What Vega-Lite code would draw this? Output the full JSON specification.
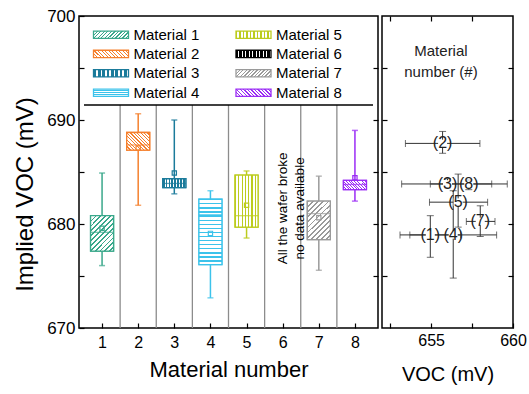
{
"$schema": "https://vega.github.io/schema/vega-lite/v6.json",
"padding": {"left": 12, "top": 6, "right": 2, "bottom": 5},
"spacing": 0,
"config": {
  "font": "Liberation Sans",
  "view": {"stroke": "black", "strokeWidth": 1.5},
  "axis": {"grid": false, "domain": false, "tickColor": "black", "tickSize": -5, "tickWidth": 1.2, "labelColor": "black", "titleColor": "black", "titleFontWeight": "normal", "labelFont": "Liberation Sans", "titleFont": "Liberation Sans", "labelFlush": false}
},
"hconcat": [
{
  "width": 299, "height": 312,
  "data": {"values": [
    {"m": 1, "lo": 676.0, "q1": 677.4, "med": 679.2, "q3": 680.8, "hi": 684.9, "mean": 679.6},
    {"m": 2, "lo": 681.8, "q1": 687.1, "med": 687.6, "q3": 688.8, "hi": 690.6, "mean": 687.3},
    {"m": 3, "lo": 682.9, "q1": 683.5, "med": 683.9, "q3": 684.35, "hi": 690.0, "mean": 684.9},
    {"m": 4, "lo": 672.9, "q1": 676.1, "med": 680.9, "q3": 682.4, "hi": 683.2, "mean": 679.1},
    {"m": 5, "lo": 678.65, "q1": 679.7, "med": 680.8, "q3": 684.7, "hi": 685.1, "mean": 681.8},
    {"m": 7, "lo": 675.55, "q1": 678.5, "med": 681.0, "q3": 682.2, "hi": 684.6, "mean": 680.6},
    {"m": 8, "lo": 682.2, "q1": 683.3, "med": 683.8, "q3": 684.2, "hi": 689.0, "mean": 684.45}
  ]},
  "resolve": {"axis": {"x": "independent", "y": "independent"}},
  "layer": [
    {
      "data": {"values": [{"s": 1.5}, {"s": 2.5}, {"s": 3.5}, {"s": 4.5}, {"s": 5.5}, {"s": 6.5}, {"s": 7.5}]},
      "mark": {"type": "rule", "color": "#8c8c8c", "strokeWidth": 1.3},
      "encoding": {
        "x": {"field": "s", "type": "quantitative", "scale": {"domain": [0.5, 8.5], "nice": false, "zero": false}, "axis": null},
        "y": {"datum": 670, "type": "quantitative", "scale": {"domain": [670, 700], "nice": false, "zero": false}, "axis": null},
        "y2": {"datum": 691.44}
      }
    },
    {
      "data": {"values": [{}]},
      "mark": {"type": "rule", "color": "black", "strokeWidth": 1.5},
      "encoding": {
        "x": {"datum": 0.5, "type": "quantitative", "scale": {"domain": [0.5, 8.5], "nice": false, "zero": false}, "axis": null},
        "x2": {"datum": 8.5},
        "y": {"datum": 691.44, "type": "quantitative", "scale": {"domain": [670, 700], "nice": false, "zero": false},
              "axis": {"orient": "right", "values": [675, 680, 685, 690, 695], "labels": false, "title": null}}
      }
    },
    {
      "mark": {"type": "rule", "strokeWidth": 1.5},
      "encoding": {
        "x": {"field": "m", "type": "quantitative", "scale": {"domain": [0.5, 8.5], "nice": false, "zero": false},
              "axis": {"orient": "bottom", "values": [1, 2, 3, 4, 5, 6, 7, 8], "title": "Material number", "titleFontSize": 22, "labelFontSize": 16, "labelPadding": 11, "titlePadding": 9}},
        "y": {"field": "lo", "type": "quantitative", "scale": {"domain": [670, 700], "nice": false, "zero": false},
              "axis": {"orient": "left", "values": [670, 675, 680, 685, 690, 695, 700], "labelExpr": "datum.value % 10 === 0 ? datum.label : ''", "title": "Implied VOC (mV)", "titleFontSize": 24, "labelFontSize": 17, "labelPadding": 9, "titlePadding": 9, "titleY": 178}},
        "y2": {"field": "hi"},
        "color": {"field": "m", "type": "nominal", "scale": {"domain": [8, 7, 6, 5, 4, 3, 2, 1], "range": ["#9b2cf5", "#9a9a9a", "#000000", "#bccc1e", "#3cc3eb", "#1b7b9b", "#f5802d", "#3aa88b"]}, "legend": null}
      }
    },
    {
      "mark": {"type": "tick", "orient": "horizontal", "size": 6, "thickness": 1.5},
      "encoding": {
        "x": {"field": "m", "type": "quantitative", "scale": {"domain": [0.5, 8.5], "nice": false, "zero": false}, "axis": null},
        "y": {"field": "lo", "type": "quantitative", "scale": {"domain": [670, 700], "nice": false, "zero": false}, "axis": null},
        "color": {"field": "m", "type": "nominal", "scale": {"domain": [8, 7, 6, 5, 4, 3, 2, 1], "range": ["#9b2cf5", "#9a9a9a", "#000000", "#bccc1e", "#3cc3eb", "#1b7b9b", "#f5802d", "#3aa88b"]}, "legend": null}
      }
    },
    {
      "mark": {"type": "tick", "orient": "horizontal", "size": 6, "thickness": 1.5},
      "encoding": {
        "x": {"field": "m", "type": "quantitative", "scale": {"domain": [0.5, 8.5], "nice": false, "zero": false}, "axis": null},
        "y": {"field": "hi", "type": "quantitative", "scale": {"domain": [670, 700], "nice": false, "zero": false}, "axis": null},
        "color": {"field": "m", "type": "nominal", "scale": {"domain": [8, 7, 6, 5, 4, 3, 2, 1], "range": ["#9b2cf5", "#9a9a9a", "#000000", "#bccc1e", "#3cc3eb", "#1b7b9b", "#f5802d", "#3aa88b"]}, "legend": null}
      }
    },
    {
      "mark": {"type": "bar", "size": 23, "strokeWidth": 1.3},
      "encoding": {
        "x": {"field": "m", "type": "quantitative", "scale": {"domain": [0.5, 8.5], "nice": false, "zero": false}, "axis": null},
        "y": {"field": "q1", "type": "quantitative", "scale": {"domain": [670, 700], "nice": false, "zero": false}, "axis": null},
        "y2": {"field": "q3"},
        "fill": {"field": "m", "type": "nominal",
          "scale": {"domain": [1, 2, 3, 4, 5, 6, 7, 8], "range": [
            {"expr": "{gradient:'linear',x1:0,y1:0,x2:1.158,y2:0.242,stops:[{offset:0,color:'#3aa88b'},{offset:0.03,color:'#3aa88b'},{offset:0.03,color:'#fff'},{offset:0.0833,color:'#fff'},{offset:0.0833,color:'#3aa88b'},{offset:0.1133,color:'#3aa88b'},{offset:0.1133,color:'#fff'},{offset:0.1667,color:'#fff'},{offset:0.1667,color:'#3aa88b'},{offset:0.1967,color:'#3aa88b'},{offset:0.1967,color:'#fff'},{offset:0.25,color:'#fff'},{offset:0.25,color:'#3aa88b'},{offset:0.28,color:'#3aa88b'},{offset:0.28,color:'#fff'},{offset:0.3333,color:'#fff'},{offset:0.3333,color:'#3aa88b'},{offset:0.3633,color:'#3aa88b'},{offset:0.3633,color:'#fff'},{offset:0.4167,color:'#fff'},{offset:0.4167,color:'#3aa88b'},{offset:0.4467,color:'#3aa88b'},{offset:0.4467,color:'#fff'},{offset:0.5,color:'#fff'},{offset:0.5,color:'#3aa88b'},{offset:0.53,color:'#3aa88b'},{offset:0.53,color:'#fff'},{offset:0.5833,color:'#fff'},{offset:0.5833,color:'#3aa88b'},{offset:0.6133,color:'#3aa88b'},{offset:0.6133,color:'#fff'},{offset:0.6667,color:'#fff'},{offset:0.6667,color:'#3aa88b'},{offset:0.6967,color:'#3aa88b'},{offset:0.6967,color:'#fff'},{offset:0.75,color:'#fff'},{offset:0.75,color:'#3aa88b'},{offset:0.78,color:'#3aa88b'},{offset:0.78,color:'#fff'},{offset:0.8333,color:'#fff'},{offset:0.8333,color:'#3aa88b'},{offset:0.8633,color:'#3aa88b'},{offset:0.8633,color:'#fff'},{offset:0.9167,color:'#fff'},{offset:0.9167,color:'#3aa88b'},{offset:0.9467,color:'#3aa88b'},{offset:0.9467,color:'#fff'},{offset:1,color:'#fff'}]}"},
            {"expr": "{gradient:'linear',x1:0,y1:1,x2:1.158,y2:0.758,stops:[{offset:0,color:'#f5802d'},{offset:0.03,color:'#f5802d'},{offset:0.03,color:'#fff'},{offset:0.0833,color:'#fff'},{offset:0.0833,color:'#f5802d'},{offset:0.1133,color:'#f5802d'},{offset:0.1133,color:'#fff'},{offset:0.1667,color:'#fff'},{offset:0.1667,color:'#f5802d'},{offset:0.1967,color:'#f5802d'},{offset:0.1967,color:'#fff'},{offset:0.25,color:'#fff'},{offset:0.25,color:'#f5802d'},{offset:0.28,color:'#f5802d'},{offset:0.28,color:'#fff'},{offset:0.3333,color:'#fff'},{offset:0.3333,color:'#f5802d'},{offset:0.3633,color:'#f5802d'},{offset:0.3633,color:'#fff'},{offset:0.4167,color:'#fff'},{offset:0.4167,color:'#f5802d'},{offset:0.4467,color:'#f5802d'},{offset:0.4467,color:'#fff'},{offset:0.5,color:'#fff'},{offset:0.5,color:'#f5802d'},{offset:0.53,color:'#f5802d'},{offset:0.53,color:'#fff'},{offset:0.5833,color:'#fff'},{offset:0.5833,color:'#f5802d'},{offset:0.6133,color:'#f5802d'},{offset:0.6133,color:'#fff'},{offset:0.6667,color:'#fff'},{offset:0.6667,color:'#f5802d'},{offset:0.6967,color:'#f5802d'},{offset:0.6967,color:'#fff'},{offset:0.75,color:'#fff'},{offset:0.75,color:'#f5802d'},{offset:0.78,color:'#f5802d'},{offset:0.78,color:'#fff'},{offset:0.8333,color:'#fff'},{offset:0.8333,color:'#f5802d'},{offset:0.8633,color:'#f5802d'},{offset:0.8633,color:'#fff'},{offset:0.9167,color:'#fff'},{offset:0.9167,color:'#f5802d'},{offset:0.9467,color:'#f5802d'},{offset:0.9467,color:'#fff'},{offset:1,color:'#fff'}]}"},
            {"expr": "{gradient:'linear',x1:0,y1:0,x2:1,y2:0,stops:[{offset:0,color:'#1b7b9b'},{offset:0.075,color:'#1b7b9b'},{offset:0.075,color:'#fff'},{offset:0.125,color:'#fff'},{offset:0.125,color:'#1b7b9b'},{offset:0.2,color:'#1b7b9b'},{offset:0.2,color:'#fff'},{offset:0.25,color:'#fff'},{offset:0.25,color:'#1b7b9b'},{offset:0.325,color:'#1b7b9b'},{offset:0.325,color:'#fff'},{offset:0.375,color:'#fff'},{offset:0.375,color:'#1b7b9b'},{offset:0.45,color:'#1b7b9b'},{offset:0.45,color:'#fff'},{offset:0.5,color:'#fff'},{offset:0.5,color:'#1b7b9b'},{offset:0.575,color:'#1b7b9b'},{offset:0.575,color:'#fff'},{offset:0.625,color:'#fff'},{offset:0.625,color:'#1b7b9b'},{offset:0.7,color:'#1b7b9b'},{offset:0.7,color:'#fff'},{offset:0.75,color:'#fff'},{offset:0.75,color:'#1b7b9b'},{offset:0.825,color:'#1b7b9b'},{offset:0.825,color:'#fff'},{offset:0.875,color:'#fff'},{offset:0.875,color:'#1b7b9b'},{offset:0.95,color:'#1b7b9b'},{offset:0.95,color:'#fff'},{offset:1,color:'#fff'}]}"},
            {"expr": "{gradient:'linear',x1:0,y1:0,x2:0,y2:1,stops:[{offset:0,color:'#fff'},{offset:0.19,color:'#fff'},{offset:0.19,color:'#3cc3eb'},{offset:0.31,color:'#3cc3eb'},{offset:0.31,color:'#fff'},{offset:0.44,color:'#fff'},{offset:0.44,color:'#3cc3eb'},{offset:0.56,color:'#3cc3eb'},{offset:0.56,color:'#fff'},{offset:0.69,color:'#fff'},{offset:0.69,color:'#3cc3eb'},{offset:0.81,color:'#3cc3eb'},{offset:0.81,color:'#fff'},{offset:1,color:'#fff'}]}"},
            {"expr": "{gradient:'linear',x1:0,y1:0,x2:1,y2:0,stops:[{offset:0,color:'#bccc1e'},{offset:0.03,color:'#bccc1e'},{offset:0.03,color:'#fff'},{offset:0.1,color:'#fff'},{offset:0.1,color:'#bccc1e'},{offset:0.13,color:'#bccc1e'},{offset:0.13,color:'#fff'},{offset:0.2,color:'#fff'},{offset:0.2,color:'#bccc1e'},{offset:0.23,color:'#bccc1e'},{offset:0.23,color:'#fff'},{offset:0.3,color:'#fff'},{offset:0.3,color:'#bccc1e'},{offset:0.33,color:'#bccc1e'},{offset:0.33,color:'#fff'},{offset:0.4,color:'#fff'},{offset:0.4,color:'#bccc1e'},{offset:0.43,color:'#bccc1e'},{offset:0.43,color:'#fff'},{offset:0.5,color:'#fff'},{offset:0.5,color:'#bccc1e'},{offset:0.53,color:'#bccc1e'},{offset:0.53,color:'#fff'},{offset:0.6,color:'#fff'},{offset:0.6,color:'#bccc1e'},{offset:0.63,color:'#bccc1e'},{offset:0.63,color:'#fff'},{offset:0.7,color:'#fff'},{offset:0.7,color:'#bccc1e'},{offset:0.73,color:'#bccc1e'},{offset:0.73,color:'#fff'},{offset:0.8,color:'#fff'},{offset:0.8,color:'#bccc1e'},{offset:0.83,color:'#bccc1e'},{offset:0.83,color:'#fff'},{offset:0.9,color:'#fff'},{offset:0.9,color:'#bccc1e'},{offset:0.93,color:'#bccc1e'},{offset:0.93,color:'#fff'},{offset:1,color:'#fff'}]}"},
            {"expr": "{gradient:'linear',x1:0,y1:0,x2:1,y2:0,stops:[{offset:0,color:'#000'},{offset:0.065,color:'#000'},{offset:0.065,color:'#fff'},{offset:0.1,color:'#fff'},{offset:0.1,color:'#000'},{offset:0.165,color:'#000'},{offset:0.165,color:'#fff'},{offset:0.2,color:'#fff'},{offset:0.2,color:'#000'},{offset:0.265,color:'#000'},{offset:0.265,color:'#fff'},{offset:0.3,color:'#fff'},{offset:0.3,color:'#000'},{offset:0.365,color:'#000'},{offset:0.365,color:'#fff'},{offset:0.4,color:'#fff'},{offset:0.4,color:'#000'},{offset:0.465,color:'#000'},{offset:0.465,color:'#fff'},{offset:0.5,color:'#fff'},{offset:0.5,color:'#000'},{offset:0.565,color:'#000'},{offset:0.565,color:'#fff'},{offset:0.6,color:'#fff'},{offset:0.6,color:'#000'},{offset:0.665,color:'#000'},{offset:0.665,color:'#fff'},{offset:0.7,color:'#fff'},{offset:0.7,color:'#000'},{offset:0.765,color:'#000'},{offset:0.765,color:'#fff'},{offset:0.8,color:'#fff'},{offset:0.8,color:'#000'},{offset:0.865,color:'#000'},{offset:0.865,color:'#fff'},{offset:0.9,color:'#fff'},{offset:0.9,color:'#000'},{offset:0.965,color:'#000'},{offset:0.965,color:'#fff'},{offset:1,color:'#fff'}]}"},
            {"expr": "{gradient:'linear',x1:0,y1:0,x2:1.158,y2:0.242,stops:[{offset:0,color:'#9a9a9a'},{offset:0.03,color:'#9a9a9a'},{offset:0.03,color:'#fff'},{offset:0.0833,color:'#fff'},{offset:0.0833,color:'#9a9a9a'},{offset:0.1133,color:'#9a9a9a'},{offset:0.1133,color:'#fff'},{offset:0.1667,color:'#fff'},{offset:0.1667,color:'#9a9a9a'},{offset:0.1967,color:'#9a9a9a'},{offset:0.1967,color:'#fff'},{offset:0.25,color:'#fff'},{offset:0.25,color:'#9a9a9a'},{offset:0.28,color:'#9a9a9a'},{offset:0.28,color:'#fff'},{offset:0.3333,color:'#fff'},{offset:0.3333,color:'#9a9a9a'},{offset:0.3633,color:'#9a9a9a'},{offset:0.3633,color:'#fff'},{offset:0.4167,color:'#fff'},{offset:0.4167,color:'#9a9a9a'},{offset:0.4467,color:'#9a9a9a'},{offset:0.4467,color:'#fff'},{offset:0.5,color:'#fff'},{offset:0.5,color:'#9a9a9a'},{offset:0.53,color:'#9a9a9a'},{offset:0.53,color:'#fff'},{offset:0.5833,color:'#fff'},{offset:0.5833,color:'#9a9a9a'},{offset:0.6133,color:'#9a9a9a'},{offset:0.6133,color:'#fff'},{offset:0.6667,color:'#fff'},{offset:0.6667,color:'#9a9a9a'},{offset:0.6967,color:'#9a9a9a'},{offset:0.6967,color:'#fff'},{offset:0.75,color:'#fff'},{offset:0.75,color:'#9a9a9a'},{offset:0.78,color:'#9a9a9a'},{offset:0.78,color:'#fff'},{offset:0.8333,color:'#fff'},{offset:0.8333,color:'#9a9a9a'},{offset:0.8633,color:'#9a9a9a'},{offset:0.8633,color:'#fff'},{offset:0.9167,color:'#fff'},{offset:0.9167,color:'#9a9a9a'},{offset:0.9467,color:'#9a9a9a'},{offset:0.9467,color:'#fff'},{offset:1,color:'#fff'}]}"},
            {"expr": "{gradient:'linear',x1:0,y1:1,x2:1.158,y2:0.758,stops:[{offset:0,color:'#9b2cf5'},{offset:0.03,color:'#9b2cf5'},{offset:0.03,color:'#fff'},{offset:0.0833,color:'#fff'},{offset:0.0833,color:'#9b2cf5'},{offset:0.1133,color:'#9b2cf5'},{offset:0.1133,color:'#fff'},{offset:0.1667,color:'#fff'},{offset:0.1667,color:'#9b2cf5'},{offset:0.1967,color:'#9b2cf5'},{offset:0.1967,color:'#fff'},{offset:0.25,color:'#fff'},{offset:0.25,color:'#9b2cf5'},{offset:0.28,color:'#9b2cf5'},{offset:0.28,color:'#fff'},{offset:0.3333,color:'#fff'},{offset:0.3333,color:'#9b2cf5'},{offset:0.3633,color:'#9b2cf5'},{offset:0.3633,color:'#fff'},{offset:0.4167,color:'#fff'},{offset:0.4167,color:'#9b2cf5'},{offset:0.4467,color:'#9b2cf5'},{offset:0.4467,color:'#fff'},{offset:0.5,color:'#fff'},{offset:0.5,color:'#9b2cf5'},{offset:0.53,color:'#9b2cf5'},{offset:0.53,color:'#fff'},{offset:0.5833,color:'#fff'},{offset:0.5833,color:'#9b2cf5'},{offset:0.6133,color:'#9b2cf5'},{offset:0.6133,color:'#fff'},{offset:0.6667,color:'#fff'},{offset:0.6667,color:'#9b2cf5'},{offset:0.6967,color:'#9b2cf5'},{offset:0.6967,color:'#fff'},{offset:0.75,color:'#fff'},{offset:0.75,color:'#9b2cf5'},{offset:0.78,color:'#9b2cf5'},{offset:0.78,color:'#fff'},{offset:0.8333,color:'#fff'},{offset:0.8333,color:'#9b2cf5'},{offset:0.8633,color:'#9b2cf5'},{offset:0.8633,color:'#fff'},{offset:0.9167,color:'#fff'},{offset:0.9167,color:'#9b2cf5'},{offset:0.9467,color:'#9b2cf5'},{offset:0.9467,color:'#fff'},{offset:1,color:'#fff'}]}"}
          ]},
          "legend": {"orient": "top-left", "columns": 2, "title": null, "labelExpr": "'Material ' + datum.label", "symbolType": "M-4.375,-0.91H4.375V0.91H-4.375Z", "symbolSize": 64, "symbolOffset": 13.5, "symbolStrokeWidth": 1.3, "labelFontSize": 15, "labelColor": "black", "labelOffset": 15, "rowPadding": 3.4, "columnPadding": 32.5, "offset": 11, "padding": 0}
        },
        "stroke": {"field": "m", "type": "nominal", "scale": {"domain": [1, 2, 3, 4, 5, 6, 7, 8], "range": ["#3aa88b", "#f5802d", "#1b7b9b", "#3cc3eb", "#bccc1e", "#000000", "#9a9a9a", "#9b2cf5"]},
          "legend": {"orient": "top-left", "columns": 2, "title": null, "labelExpr": "'Material ' + datum.label", "symbolType": "M-4.375,-0.91H4.375V0.91H-4.375Z", "symbolSize": 64, "symbolOffset": 13.5, "symbolStrokeWidth": 1.3, "labelFontSize": 15, "labelColor": "black", "labelOffset": 15, "rowPadding": 3.4, "columnPadding": 32.5, "offset": 11, "padding": 0}
        }
      }
    },
    {
      "mark": {"type": "bar", "size": 23, "strokeWidth": 1.3},
      "encoding": {
        "x": {"field": "m", "type": "quantitative", "scale": {"domain": [0.5, 8.5], "nice": false, "zero": false}, "axis": null},
        "y": {"field": "q1", "type": "quantitative", "scale": {"domain": [670, 700], "nice": false, "zero": false}, "axis": null},
        "y2": {"field": "q3"},
        "stroke": {"condition": [
          {"test": "datum.m === 1", "value": "#3aa88b"}, {"test": "datum.m === 2", "value": "#f5802d"}, {"test": "datum.m === 3", "value": "#1b7b9b"}, {"test": "datum.m === 4", "value": "#3cc3eb"},
          {"test": "datum.m === 5", "value": "#bccc1e"}, {"test": "datum.m === 7", "value": "#9a9a9a"}, {"test": "datum.m === 8", "value": "#9b2cf5"}], "value": "#000000"},
        "fill": {"condition": [
          {"test": "datum.m === 1", "value": {"gradient": "linear", "x1": 0, "y1": 0, "x2": 0.76, "y2": 1.16, "stops": [{"offset":0,"color":"#3aa88b"},{"offset":0.03,"color":"#3aa88b"},{"offset":0.03,"color":"white"},{"offset":0.0833,"color":"white"},{"offset":0.0833,"color":"#3aa88b"},{"offset":0.1133,"color":"#3aa88b"},{"offset":0.1133,"color":"white"},{"offset":0.1667,"color":"white"},{"offset":0.1667,"color":"#3aa88b"},{"offset":0.1967,"color":"#3aa88b"},{"offset":0.1967,"color":"white"},{"offset":0.25,"color":"white"},{"offset":0.25,"color":"#3aa88b"},{"offset":0.28,"color":"#3aa88b"},{"offset":0.28,"color":"white"},{"offset":0.3333,"color":"white"},{"offset":0.3333,"color":"#3aa88b"},{"offset":0.3633,"color":"#3aa88b"},{"offset":0.3633,"color":"white"},{"offset":0.4167,"color":"white"},{"offset":0.4167,"color":"#3aa88b"},{"offset":0.4467,"color":"#3aa88b"},{"offset":0.4467,"color":"white"},{"offset":0.5,"color":"white"},{"offset":0.5,"color":"#3aa88b"},{"offset":0.53,"color":"#3aa88b"},{"offset":0.53,"color":"white"},{"offset":0.5833,"color":"white"},{"offset":0.5833,"color":"#3aa88b"},{"offset":0.6133,"color":"#3aa88b"},{"offset":0.6133,"color":"white"},{"offset":0.6667,"color":"white"},{"offset":0.6667,"color":"#3aa88b"},{"offset":0.6967,"color":"#3aa88b"},{"offset":0.6967,"color":"white"},{"offset":0.75,"color":"white"},{"offset":0.75,"color":"#3aa88b"},{"offset":0.78,"color":"#3aa88b"},{"offset":0.78,"color":"white"},{"offset":0.8333,"color":"white"},{"offset":0.8333,"color":"#3aa88b"},{"offset":0.8633,"color":"#3aa88b"},{"offset":0.8633,"color":"white"},{"offset":0.9167,"color":"white"},{"offset":0.9167,"color":"#3aa88b"},{"offset":0.9467,"color":"#3aa88b"},{"offset":0.9467,"color":"white"},{"offset":1,"color":"white"}]}},
          {"test": "datum.m === 2", "value": {"gradient": "linear", "x1": 0, "y1": 1, "x2": 1.11, "y2": 0.145, "stops": [{"offset":0,"color":"#f5802d"},{"offset":0.03,"color":"#f5802d"},{"offset":0.03,"color":"white"},{"offset":0.0833,"color":"white"},{"offset":0.0833,"color":"#f5802d"},{"offset":0.1133,"color":"#f5802d"},{"offset":0.1133,"color":"white"},{"offset":0.1667,"color":"white"},{"offset":0.1667,"color":"#f5802d"},{"offset":0.1967,"color":"#f5802d"},{"offset":0.1967,"color":"white"},{"offset":0.25,"color":"white"},{"offset":0.25,"color":"#f5802d"},{"offset":0.28,"color":"#f5802d"},{"offset":0.28,"color":"white"},{"offset":0.3333,"color":"white"},{"offset":0.3333,"color":"#f5802d"},{"offset":0.3633,"color":"#f5802d"},{"offset":0.3633,"color":"white"},{"offset":0.4167,"color":"white"},{"offset":0.4167,"color":"#f5802d"},{"offset":0.4467,"color":"#f5802d"},{"offset":0.4467,"color":"white"},{"offset":0.5,"color":"white"},{"offset":0.5,"color":"#f5802d"},{"offset":0.53,"color":"#f5802d"},{"offset":0.53,"color":"white"},{"offset":0.5833,"color":"white"},{"offset":0.5833,"color":"#f5802d"},{"offset":0.6133,"color":"#f5802d"},{"offset":0.6133,"color":"white"},{"offset":0.6667,"color":"white"},{"offset":0.6667,"color":"#f5802d"},{"offset":0.6967,"color":"#f5802d"},{"offset":0.6967,"color":"white"},{"offset":0.75,"color":"white"},{"offset":0.75,"color":"#f5802d"},{"offset":0.78,"color":"#f5802d"},{"offset":0.78,"color":"white"},{"offset":0.8333,"color":"white"},{"offset":0.8333,"color":"#f5802d"},{"offset":0.8633,"color":"#f5802d"},{"offset":0.8633,"color":"white"},{"offset":0.9167,"color":"white"},{"offset":0.9167,"color":"#f5802d"},{"offset":0.9467,"color":"#f5802d"},{"offset":0.9467,"color":"white"},{"offset":1,"color":"white"}]}},
          {"test": "datum.m === 3", "value": {"gradient": "linear", "x1": 0, "y1": 0, "x2": 1, "y2": 0, "stops": [{"offset":0,"color":"#1b7b9b"},{"offset":0.075,"color":"#1b7b9b"},{"offset":0.075,"color":"white"},{"offset":0.125,"color":"white"},{"offset":0.125,"color":"#1b7b9b"},{"offset":0.2,"color":"#1b7b9b"},{"offset":0.2,"color":"white"},{"offset":0.25,"color":"white"},{"offset":0.25,"color":"#1b7b9b"},{"offset":0.325,"color":"#1b7b9b"},{"offset":0.325,"color":"white"},{"offset":0.375,"color":"white"},{"offset":0.375,"color":"#1b7b9b"},{"offset":0.45,"color":"#1b7b9b"},{"offset":0.45,"color":"white"},{"offset":0.5,"color":"white"},{"offset":0.5,"color":"#1b7b9b"},{"offset":0.575,"color":"#1b7b9b"},{"offset":0.575,"color":"white"},{"offset":0.625,"color":"white"},{"offset":0.625,"color":"#1b7b9b"},{"offset":0.7,"color":"#1b7b9b"},{"offset":0.7,"color":"white"},{"offset":0.75,"color":"white"},{"offset":0.75,"color":"#1b7b9b"},{"offset":0.825,"color":"#1b7b9b"},{"offset":0.825,"color":"white"},{"offset":0.875,"color":"white"},{"offset":0.875,"color":"#1b7b9b"},{"offset":0.95,"color":"#1b7b9b"},{"offset":0.95,"color":"white"},{"offset":1,"color":"white"}]}},
          {"test": "datum.m === 4", "value": {"gradient": "linear", "x1": 0, "y1": 0, "x2": 0, "y2": 1, "stops": [{"offset":0,"color":"#3cc3eb"},{"offset":0.02,"color":"#3cc3eb"},{"offset":0.02,"color":"white"},{"offset":0.0625,"color":"white"},{"offset":0.0625,"color":"#3cc3eb"},{"offset":0.0825,"color":"#3cc3eb"},{"offset":0.0825,"color":"white"},{"offset":0.125,"color":"white"},{"offset":0.125,"color":"#3cc3eb"},{"offset":0.145,"color":"#3cc3eb"},{"offset":0.145,"color":"white"},{"offset":0.1875,"color":"white"},{"offset":0.1875,"color":"#3cc3eb"},{"offset":0.2075,"color":"#3cc3eb"},{"offset":0.2075,"color":"white"},{"offset":0.25,"color":"white"},{"offset":0.25,"color":"#3cc3eb"},{"offset":0.27,"color":"#3cc3eb"},{"offset":0.27,"color":"white"},{"offset":0.3125,"color":"white"},{"offset":0.3125,"color":"#3cc3eb"},{"offset":0.3325,"color":"#3cc3eb"},{"offset":0.3325,"color":"white"},{"offset":0.375,"color":"white"},{"offset":0.375,"color":"#3cc3eb"},{"offset":0.395,"color":"#3cc3eb"},{"offset":0.395,"color":"white"},{"offset":0.4375,"color":"white"},{"offset":0.4375,"color":"#3cc3eb"},{"offset":0.4575,"color":"#3cc3eb"},{"offset":0.4575,"color":"white"},{"offset":0.5,"color":"white"},{"offset":0.5,"color":"#3cc3eb"},{"offset":0.52,"color":"#3cc3eb"},{"offset":0.52,"color":"white"},{"offset":0.5625,"color":"white"},{"offset":0.5625,"color":"#3cc3eb"},{"offset":0.5825,"color":"#3cc3eb"},{"offset":0.5825,"color":"white"},{"offset":0.625,"color":"white"},{"offset":0.625,"color":"#3cc3eb"},{"offset":0.645,"color":"#3cc3eb"},{"offset":0.645,"color":"white"},{"offset":0.6875,"color":"white"},{"offset":0.6875,"color":"#3cc3eb"},{"offset":0.7075,"color":"#3cc3eb"},{"offset":0.7075,"color":"white"},{"offset":0.75,"color":"white"},{"offset":0.75,"color":"#3cc3eb"},{"offset":0.77,"color":"#3cc3eb"},{"offset":0.77,"color":"white"},{"offset":0.8125,"color":"white"},{"offset":0.8125,"color":"#3cc3eb"},{"offset":0.8325,"color":"#3cc3eb"},{"offset":0.8325,"color":"white"},{"offset":0.875,"color":"white"},{"offset":0.875,"color":"#3cc3eb"},{"offset":0.895,"color":"#3cc3eb"},{"offset":0.895,"color":"white"},{"offset":0.9375,"color":"white"},{"offset":0.9375,"color":"#3cc3eb"},{"offset":0.9575,"color":"#3cc3eb"},{"offset":0.9575,"color":"white"},{"offset":1,"color":"white"}]}},
          {"test": "datum.m === 5", "value": {"gradient": "linear", "x1": 0, "y1": 0, "x2": 1, "y2": 0, "stops": [{"offset":0,"color":"#bccc1e"},{"offset":0.045,"color":"#bccc1e"},{"offset":0.045,"color":"white"},{"offset":0.1429,"color":"white"},{"offset":0.1429,"color":"#bccc1e"},{"offset":0.1879,"color":"#bccc1e"},{"offset":0.1879,"color":"white"},{"offset":0.2857,"color":"white"},{"offset":0.2857,"color":"#bccc1e"},{"offset":0.3307,"color":"#bccc1e"},{"offset":0.3307,"color":"white"},{"offset":0.4286,"color":"white"},{"offset":0.4286,"color":"#bccc1e"},{"offset":0.4736,"color":"#bccc1e"},{"offset":0.4736,"color":"white"},{"offset":0.5714,"color":"white"},{"offset":0.5714,"color":"#bccc1e"},{"offset":0.6164,"color":"#bccc1e"},{"offset":0.6164,"color":"white"},{"offset":0.7143,"color":"white"},{"offset":0.7143,"color":"#bccc1e"},{"offset":0.7593,"color":"#bccc1e"},{"offset":0.7593,"color":"white"},{"offset":0.8571,"color":"white"},{"offset":0.8571,"color":"#bccc1e"},{"offset":0.9021,"color":"#bccc1e"},{"offset":0.9021,"color":"white"},{"offset":1,"color":"white"}]}},
          {"test": "datum.m === 7", "value": {"gradient": "linear", "x1": 0, "y1": 0, "x2": 0.70, "y2": 1.18, "stops": [{"offset":0,"color":"#9a9a9a"},{"offset":0.03,"color":"#9a9a9a"},{"offset":0.03,"color":"white"},{"offset":0.0833,"color":"white"},{"offset":0.0833,"color":"#9a9a9a"},{"offset":0.1133,"color":"#9a9a9a"},{"offset":0.1133,"color":"white"},{"offset":0.1667,"color":"white"},{"offset":0.1667,"color":"#9a9a9a"},{"offset":0.1967,"color":"#9a9a9a"},{"offset":0.1967,"color":"white"},{"offset":0.25,"color":"white"},{"offset":0.25,"color":"#9a9a9a"},{"offset":0.28,"color":"#9a9a9a"},{"offset":0.28,"color":"white"},{"offset":0.3333,"color":"white"},{"offset":0.3333,"color":"#9a9a9a"},{"offset":0.3633,"color":"#9a9a9a"},{"offset":0.3633,"color":"white"},{"offset":0.4167,"color":"white"},{"offset":0.4167,"color":"#9a9a9a"},{"offset":0.4467,"color":"#9a9a9a"},{"offset":0.4467,"color":"white"},{"offset":0.5,"color":"white"},{"offset":0.5,"color":"#9a9a9a"},{"offset":0.53,"color":"#9a9a9a"},{"offset":0.53,"color":"white"},{"offset":0.5833,"color":"white"},{"offset":0.5833,"color":"#9a9a9a"},{"offset":0.6133,"color":"#9a9a9a"},{"offset":0.6133,"color":"white"},{"offset":0.6667,"color":"white"},{"offset":0.6667,"color":"#9a9a9a"},{"offset":0.6967,"color":"#9a9a9a"},{"offset":0.6967,"color":"white"},{"offset":0.75,"color":"white"},{"offset":0.75,"color":"#9a9a9a"},{"offset":0.78,"color":"#9a9a9a"},{"offset":0.78,"color":"white"},{"offset":0.8333,"color":"white"},{"offset":0.8333,"color":"#9a9a9a"},{"offset":0.8633,"color":"#9a9a9a"},{"offset":0.8633,"color":"white"},{"offset":0.9167,"color":"white"},{"offset":0.9167,"color":"#9a9a9a"},{"offset":0.9467,"color":"#9a9a9a"},{"offset":0.9467,"color":"white"},{"offset":1,"color":"white"}]}},
          {"test": "datum.m === 8", "value": {"gradient": "linear", "x1": 0, "y1": 1, "x2": 1.207, "y2": 0.505, "stops": [{"offset":0,"color":"#9b2cf5"},{"offset":0.03,"color":"#9b2cf5"},{"offset":0.03,"color":"white"},{"offset":0.0833,"color":"white"},{"offset":0.0833,"color":"#9b2cf5"},{"offset":0.1133,"color":"#9b2cf5"},{"offset":0.1133,"color":"white"},{"offset":0.1667,"color":"white"},{"offset":0.1667,"color":"#9b2cf5"},{"offset":0.1967,"color":"#9b2cf5"},{"offset":0.1967,"color":"white"},{"offset":0.25,"color":"white"},{"offset":0.25,"color":"#9b2cf5"},{"offset":0.28,"color":"#9b2cf5"},{"offset":0.28,"color":"white"},{"offset":0.3333,"color":"white"},{"offset":0.3333,"color":"#9b2cf5"},{"offset":0.3633,"color":"#9b2cf5"},{"offset":0.3633,"color":"white"},{"offset":0.4167,"color":"white"},{"offset":0.4167,"color":"#9b2cf5"},{"offset":0.4467,"color":"#9b2cf5"},{"offset":0.4467,"color":"white"},{"offset":0.5,"color":"white"},{"offset":0.5,"color":"#9b2cf5"},{"offset":0.53,"color":"#9b2cf5"},{"offset":0.53,"color":"white"},{"offset":0.5833,"color":"white"},{"offset":0.5833,"color":"#9b2cf5"},{"offset":0.6133,"color":"#9b2cf5"},{"offset":0.6133,"color":"white"},{"offset":0.6667,"color":"white"},{"offset":0.6667,"color":"#9b2cf5"},{"offset":0.6967,"color":"#9b2cf5"},{"offset":0.6967,"color":"white"},{"offset":0.75,"color":"white"},{"offset":0.75,"color":"#9b2cf5"},{"offset":0.78,"color":"#9b2cf5"},{"offset":0.78,"color":"white"},{"offset":0.8333,"color":"white"},{"offset":0.8333,"color":"#9b2cf5"},{"offset":0.8633,"color":"#9b2cf5"},{"offset":0.8633,"color":"white"},{"offset":0.9167,"color":"white"},{"offset":0.9167,"color":"#9b2cf5"},{"offset":0.9467,"color":"#9b2cf5"},{"offset":0.9467,"color":"white"},{"offset":1,"color":"white"}]}}
        ], "value": "white"}
      }
    },
    {
      "mark": {"type": "tick", "orient": "horizontal", "size": 23, "thickness": 1.3},
      "encoding": {
        "x": {"field": "m", "type": "quantitative", "scale": {"domain": [0.5, 8.5], "nice": false, "zero": false}, "axis": null},
        "y": {"field": "med", "type": "quantitative", "scale": {"domain": [670, 700], "nice": false, "zero": false}, "axis": null},
        "color": {"field": "m", "type": "nominal", "scale": {"domain": [8, 7, 6, 5, 4, 3, 2, 1], "range": ["#9b2cf5", "#9a9a9a", "#000000", "#bccc1e", "#3cc3eb", "#1b7b9b", "#f5802d", "#3aa88b"]}, "legend": null}
      }
    },
    {
      "mark": {"type": "point", "shape": "square", "filled": false, "size": 18, "strokeWidth": 1.2, "opacity": 1},
      "encoding": {
        "x": {"field": "m", "type": "quantitative", "scale": {"domain": [0.5, 8.5], "nice": false, "zero": false}, "axis": null},
        "y": {"field": "mean", "type": "quantitative", "scale": {"domain": [670, 700], "nice": false, "zero": false}, "axis": null},
        "color": {"field": "m", "type": "nominal", "scale": {"domain": [8, 7, 6, 5, 4, 3, 2, 1], "range": ["#9b2cf5", "#9a9a9a", "#000000", "#bccc1e", "#3cc3eb", "#1b7b9b", "#f5802d", "#3aa88b"]}, "legend": null}
      }
    },
    {
      "data": {"values": [{"m": 6, "v": 681.5, "note": ["All the wafer broke", "no data available"]}]},
      "mark": {"type": "text", "angle": 270, "align": "center", "baseline": "middle", "fontSize": 13.5, "lineHeight": 17, "color": "black", "dy": 0},
      "encoding": {
        "x": {"field": "m", "type": "quantitative", "scale": {"domain": [0.5, 8.5], "nice": false, "zero": false}, "axis": null},
        "y": {"field": "v", "type": "quantitative", "scale": {"domain": [670, 700], "nice": false, "zero": false}, "axis": null},
        "text": {"field": "note"}
      }
    }
  ]
},
{
  "width": 131, "height": 312,
  "data": {"values": [
    {"m": 1, "lab": "(1)", "v": 654.95, "vlo": 653.1, "vhi": 656.8, "imp": 678.95, "ilo": 676.8, "ihi": 680.8},
    {"m": 2, "lab": "(2)", "v": 655.7, "vlo": 653.43, "vhi": 657.98, "imp": 687.75, "ilo": 686.8, "ihi": 688.9},
    {"m": 3, "lab": "(3)", "v": 656.0, "vlo": 653.2, "vhi": 658.7, "imp": 683.85, "ilo": 683.5, "ihi": 684.35},
    {"m": 4, "lab": "(4)", "v": 656.35, "vlo": 653.7, "vhi": 659.0, "imp": 678.95, "ilo": 674.8, "ihi": 683.2},
    {"m": 5, "lab": "(5)", "v": 656.65, "vlo": 654.9, "vhi": 658.45, "imp": 682.1, "ilo": 679.7, "ihi": 684.8},
    {"m": 7, "lab": "(7)", "v": 658.0, "vlo": 657.15, "vhi": 658.9, "imp": 680.25, "ilo": 678.8, "ihi": 681.75},
    {"m": 8, "lab": "(8)", "v": 657.3, "vlo": 654.95, "vhi": 659.65, "imp": 683.85, "ilo": 683.3, "ihi": 684.2}
  ]},
  "resolve": {"axis": {"x": "independent", "y": "independent"}},
  "layer": [
    {
      "mark": {"type": "rule", "color": "#333", "strokeWidth": 1},
      "encoding": {
        "x": {"field": "vlo", "type": "quantitative", "scale": {"domain": [652, 660], "nice": false, "zero": false},
              "axis": {"orient": "bottom", "values": [652.5, 655, 657.5, 660], "labelExpr": "datum.value % 5 === 0 ? datum.label : ''", "title": "VOC (mV)", "titleFontSize": 20, "labelFontSize": 16, "labelPadding": 9, "titlePadding": 16}},
        "x2": {"field": "vhi"},
        "y": {"field": "imp", "type": "quantitative", "scale": {"domain": [670, 700], "nice": false, "zero": false},
              "axis": {"orient": "left", "values": [675, 680, 685, 690, 695], "labels": false, "title": null}}
      }
    },
    {
      "mark": {"type": "tick", "orient": "vertical", "size": 7, "thickness": 1, "color": "#333"},
      "encoding": {
        "x": {"field": "vlo", "type": "quantitative", "scale": {"domain": [652, 660], "nice": false, "zero": false},
              "axis": {"orient": "top", "values": [652.5, 655, 657.5], "labels": false, "title": null}},
        "y": {"field": "imp", "type": "quantitative", "scale": {"domain": [670, 700], "nice": false, "zero": false},
              "axis": {"orient": "right", "values": [675, 680, 685, 690, 695], "labels": false, "title": null}}
      }
    },
    {
      "mark": {"type": "tick", "orient": "vertical", "size": 7, "thickness": 1, "color": "#333"},
      "encoding": {
        "x": {"field": "vhi", "type": "quantitative", "scale": {"domain": [652, 660], "nice": false, "zero": false}, "axis": null},
        "y": {"field": "imp", "type": "quantitative", "scale": {"domain": [670, 700], "nice": false, "zero": false}, "axis": null}
      }
    },
    {
      "mark": {"type": "rule", "color": "#333", "strokeWidth": 1},
      "encoding": {
        "x": {"field": "v", "type": "quantitative", "scale": {"domain": [652, 660], "nice": false, "zero": false}, "axis": null},
        "y": {"field": "ilo", "type": "quantitative", "scale": {"domain": [670, 700], "nice": false, "zero": false}, "axis": null},
        "y2": {"field": "ihi"}
      }
    },
    {
      "mark": {"type": "tick", "orient": "horizontal", "size": 7, "thickness": 1, "color": "#333"},
      "encoding": {
        "x": {"field": "v", "type": "quantitative", "scale": {"domain": [652, 660], "nice": false, "zero": false}, "axis": null},
        "y": {"field": "ilo", "type": "quantitative", "scale": {"domain": [670, 700], "nice": false, "zero": false}, "axis": null}
      }
    },
    {
      "mark": {"type": "tick", "orient": "horizontal", "size": 7, "thickness": 1, "color": "#333"},
      "encoding": {
        "x": {"field": "v", "type": "quantitative", "scale": {"domain": [652, 660], "nice": false, "zero": false}, "axis": null},
        "y": {"field": "ihi", "type": "quantitative", "scale": {"domain": [670, 700], "nice": false, "zero": false}, "axis": null}
      }
    },
    {
      "transform": [{"filter": "datum.m !== 8"}],
      "mark": {"type": "point", "shape": "M-1.8,-1.5H1.8V1.5H-1.8Z", "size": 25, "filled": true, "color": "white", "opacity": 1, "strokeWidth": 0},
      "encoding": {
        "x": {"field": "v", "type": "quantitative", "scale": {"domain": [652, 660], "nice": false, "zero": false}, "axis": null},
        "y": {"field": "imp", "type": "quantitative", "scale": {"domain": [670, 700], "nice": false, "zero": false}, "axis": null}
      }
    },
    {
      "transform": [{"filter": "datum.m !== 8"}],
      "mark": {"type": "text", "fontSize": 16, "color": "#222", "align": "center", "baseline": "middle"},
      "encoding": {
        "x": {"field": "v", "type": "quantitative", "scale": {"domain": [652, 660], "nice": false, "zero": false}, "axis": null},
        "y": {"field": "imp", "type": "quantitative", "scale": {"domain": [670, 700], "nice": false, "zero": false}, "axis": null},
        "text": {"field": "lab"}
      }
    },
    {
      "transform": [{"filter": "datum.m === 8"}],
      "mark": {"type": "point", "shape": "M-1.8,-1.5H1.8V1.5H-1.8Z", "size": 25, "filled": true, "color": "white", "opacity": 1, "strokeWidth": 0},
      "encoding": {
        "x": {"field": "v", "type": "quantitative", "scale": {"domain": [652, 660], "nice": false, "zero": false}, "axis": null},
        "y": {"field": "imp", "type": "quantitative", "scale": {"domain": [670, 700], "nice": false, "zero": false}, "axis": null}
      }
    },
    {
      "transform": [{"filter": "datum.m === 8"}],
      "mark": {"type": "text", "fontSize": 16, "color": "#222", "align": "center", "baseline": "middle"},
      "encoding": {
        "x": {"field": "v", "type": "quantitative", "scale": {"domain": [652, 660], "nice": false, "zero": false}, "axis": null},
        "y": {"field": "imp", "type": "quantitative", "scale": {"domain": [670, 700], "nice": false, "zero": false}, "axis": null},
        "text": {"field": "lab"}
      }
    },
    {
      "data": {"values": [{"v": 655.6, "imp": 696.65, "t": ["Material", "number (#)"]}]},
      "mark": {"type": "text", "fontSize": 15, "color": "#222", "align": "center", "baseline": "middle", "lineHeight": 21},
      "encoding": {
        "x": {"field": "v", "type": "quantitative", "scale": {"domain": [652, 660], "nice": false, "zero": false}, "axis": null},
        "y": {"field": "imp", "type": "quantitative", "scale": {"domain": [670, 700], "nice": false, "zero": false}, "axis": null},
        "text": {"field": "t"}
      }
    }
  ]
}
]
}
